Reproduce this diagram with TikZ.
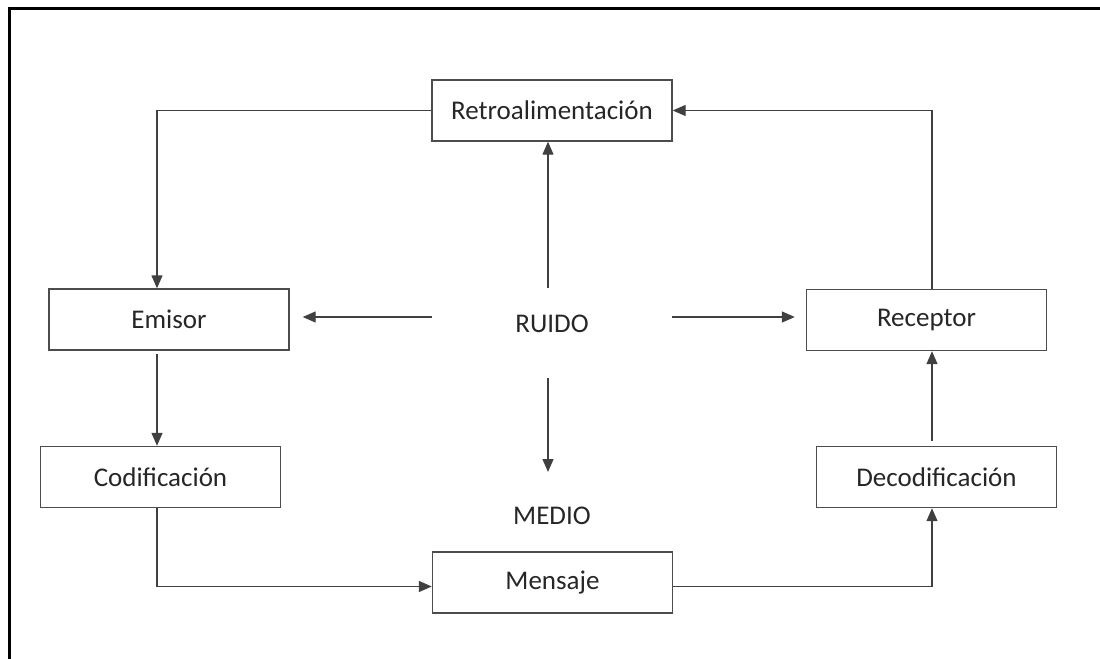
\documentclass[tikz,border=0pt]{standalone}
\usepackage{fontspec}
\setmainfont{Carlito}
\usetikzlibrary{arrows.meta}
\tikzset{
  box/.style={draw=black!70, line width=0.7pt, minimum width=120pt,
    minimum height=30.5pt, inner sep=0pt, text=black!85,
    font=\fontsize{13.5}{15}\selectfont},
  lbl/.style={inner sep=0pt, text=black!85, font=\fontsize{13.5}{15}\selectfont},
  flow/.style={draw=black!75, line width=0.7pt,
    -{Triangle[length=6.5pt,width=5.5pt]}}
}
\begin{document}
\begin{tikzpicture}[x=0.5pt,y=-0.5pt]
\useasboundingbox (0,0) rectangle (1100,659);
% frame
\draw[line width=1.5pt] (9,659) -- (9,8) -- (1100,8);
% boxes
\node[box] (retro) at (552,110.5) {Retroalimentación};
\node[box] (emisor) at (169,319.5) {Emisor};
\node[box] (codif) at (160.5,477) {Codificación};
\node[box] (recep) at (926.5,320) {Receptor};
\node[box] (decod) at (936.5,477) {Decodificación};
\node[box] (mensaje) at (552.5,582.5) {Mensaje};
\node[lbl] (ruido) at (552,324) {RUIDO};
\node[lbl] (medio) at (552,516) {MEDIO};
% columns and free ends
\coordinate (lcol) at (157,0);
\coordinate (rcol) at (932,0);
\coordinate (nw) at (432,317);
\coordinate (ne) at (672,317);
\coordinate (nn) at (548,288);
\coordinate (ns) at (548,378);
\coordinate (nsend) at (548,472);
% loop
\draw[flow] (retro.west) -| (emisor.north -| lcol);
\draw[flow, shorten <=1.5pt] (emisor.south -| lcol) -- (codif.north -| lcol);
\draw[flow] (codif.south -| lcol) |- ([yshift=-2pt]mensaje.west);
\draw[flow] ([yshift=-2pt]mensaje.east) -| (decod.south -| rcol);
\draw[flow, shorten <=2.5pt] (decod.north -| rcol) -- (recep.south -| rcol);
\draw[flow] (recep.north -| rcol) |- (retro.east);
% noise
\draw[flow, shorten >=6.5pt] (nw) -- (nw -| emisor.east);
\draw[flow, shorten >=5.5pt] (ne) -- (ne -| recep.west);
\draw[flow] (nn) -- (nn |- retro.south);
\draw[flow] (ns) -- (nsend);
\end{tikzpicture}
\end{document}
